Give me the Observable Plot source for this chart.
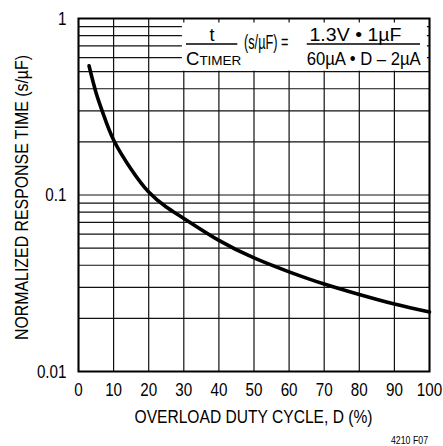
<!DOCTYPE html>
<html><head><meta charset="utf-8">
<script src="https://cdn.jsdelivr.net/npm/d3@7"></script>
<script src="https://cdn.jsdelivr.net/npm/@observablehq/plot@0.6"></script>
<style>
html,body{margin:0;padding:0;background:#fff;overflow:hidden;}
#chart svg{display:block;}
</style>
</head><body><div id="chart"></div>
<script>
// ---- data ----
const dutyCycle = [3, 5, 7, 10, 15, 20, 25, 30, 40, 50, 60, 70, 80, 90, 100];
const responseTime = [0.54, 0.38, 0.29, 0.205, 0.14, 0.104, 0.0855, 0.0737, 0.0553, 0.044, 0.0367, 0.0313, 0.0273, 0.0241, 0.0217];
const xTicks = [0, 10, 20, 30, 40, 50, 60, 70, 80, 90, 100];
const yTicks = [1, 0.1, 0.01];
const yTickLabels = ["1", "0.1", "0.01"];
const yGrid = [0.01,0.02,0.03,0.04,0.05,0.06,0.07,0.08,0.09,0.1,0.2,0.3,0.4,0.5,0.6,0.7,0.8,0.9,1];
const xLabel = "OVERLOAD DUTY CYCLE, D (%)";
const yLabel = "NORMALIZED RESPONSE TIME (s/\u00B5F)";
const figId = "4210 F07";
// equation box extent in data units
const eqBox = [{x1: 29.6, x2: 99.4, y1: 0.503, y2: 0.943}];

const points = dutyCycle.map((d, i) => ({d, t: responseTime[i]}));
const font = "'Liberation Sans',Arial,sans-serif";

const plot = Plot.plot({
  width: 443, height: 446,
  marginLeft: 78, marginRight: 14, marginTop: 18, marginBottom: 75,
  style: {fontFamily: font, fontSize: "19px", color: "#000", background: "#fff", overflow: "visible"},
  x: {domain: [0, 100]},
  y: {type: "log", domain: [0.01, 1]},
  marks: [
    Plot.ruleX(xTicks, {stroke: "#111", strokeWidth: 1.2}),
    Plot.ruleY(yGrid, {stroke: "#111", strokeWidth: 1.2}),
    Plot.rect(eqBox, {x1: "x1", x2: "x2", y1: "y1", y2: "y2", fill: "#fff"}),
    Plot.line(points, {x: "d", y: "t", curve: "natural", stroke: "#000", strokeWidth: 3.6}),
    Plot.frame({stroke: "#000", strokeWidth: 2}),
    Plot.axisX({ticks: xTicks, tickSize: 0, tickPadding: 11, label: null, tickFormat: d => String(d)}),
    Plot.axisY({ticks: yTicks, tickSize: 0, tickPadding: 12, label: null, tickFormat: d => yTickLabels[yTicks.indexOf(d)]})
  ]
});
document.getElementById("chart").appendChild(plot);

const svg = d3.select(plot);
const xs = plot.scale("x"), ys = plot.scale("y");
const cx = (xs.range[0] + xs.range[1]) / 2;
const cy = (ys.range[0] + ys.range[1]) / 2;

// condense tick labels (narrow typeface look)
svg.selectAll("g[aria-label$='tick label'] text").each(function() {
  const w = this.getComputedTextLength();
  this.setAttribute("textLength", (w * 0.8).toFixed(2));
  this.setAttribute("lengthAdjust", "spacingAndGlyphs");
});

function txt(x, y, s, size, anchor, len) {
  const t = svg.append("text").attr("x", x).attr("y", y)
    .attr("font-family", font).attr("font-size", size)
    .attr("text-anchor", anchor).attr("fill", "#000").text(s);
  if (len) t.attr("textLength", len).attr("lengthAdjust", "spacingAndGlyphs");
  return t;
}

// axis titles
txt(cx, 422.5, xLabel, 19, "middle", 238);
svg.append("text").attr("transform", `translate(28.3,${cy + 3}) rotate(-90)`)
  .attr("font-family", font).attr("font-size", 19).attr("text-anchor", "middle")
  .attr("textLength", 285).attr("lengthAdjust", "spacingAndGlyphs").text(yLabel);
txt(428, 444, figId, 10.5, "end", 37);

// equation
txt(212, 40.5, "t", 18, "middle");
svg.append("line").attr("x1", 186).attr("x2", 237.3).attr("y1", 44).attr("y2", 44).attr("stroke", "#000").attr("stroke-width", 1.3);
const c = txt(186, 65, "C", 18.5, "start");
c.append("tspan").attr("font-size", 13).attr("textLength", 42).attr("lengthAdjust", "spacingAndGlyphs").text("TIMER");
txt(244, 48.5, "(s/\u00B5F) =", 20.5, "start", 44.5);
txt(355.5, 40.5, "1.3V \u2022 1\u00B5F", 17.5, "middle", 92);
svg.append("line").attr("x1", 306.7).attr("x2", 420).attr("y1", 44).attr("y2", 44).attr("stroke", "#000").attr("stroke-width", 1.3);
txt(363.7, 65, "60\u00B5A \u2022 D \u2013 2\u00B5A", 18.5, "middle", 114);
</script>
</body></html>
